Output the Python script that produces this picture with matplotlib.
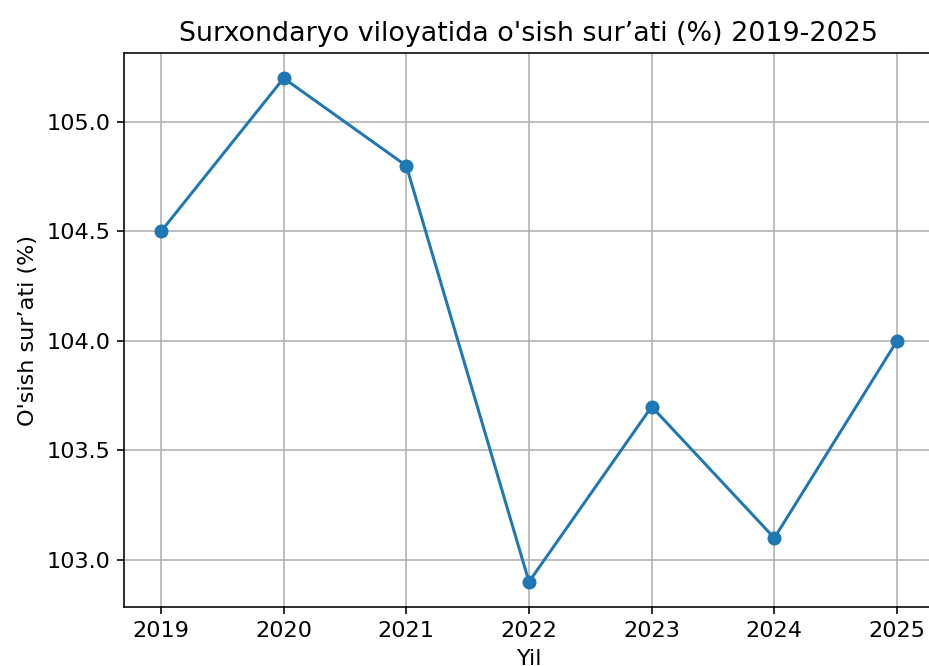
import matplotlib
matplotlib.use("Agg")
import matplotlib.pyplot as plt

# data
years = [2019, 2020, 2021, 2022, 2023, 2024, 2025]
growth = [104.5, 105.2, 104.8, 102.9, 103.7, 103.1, 104.0]

plt.rcParams["font.size"] = 11.2

W, H, dpi = 929, 666, 144
fig = plt.figure(figsize=(W / dpi, H / dpi), dpi=dpi)

# axes run a little past the right edge, like the cropped screenshot
left, right, top, bottom = 124.2, 933.8, 53, 607
ax = fig.add_axes([left / W, 1 - bottom / H, (right - left) / W, (bottom - top) / H])

ax.plot(years, growth, marker="o")
ax.set_title("Surxondaryo viloyatida o'sish sur\u2019ati (%) 2019-2025")
ax.set_xlabel("Yil")
ax.set_ylabel("O'sish sur\u2019ati (%)")
ax.set_xticks(years)
ax.grid(True)

fig.savefig("out.png", dpi=dpi)
